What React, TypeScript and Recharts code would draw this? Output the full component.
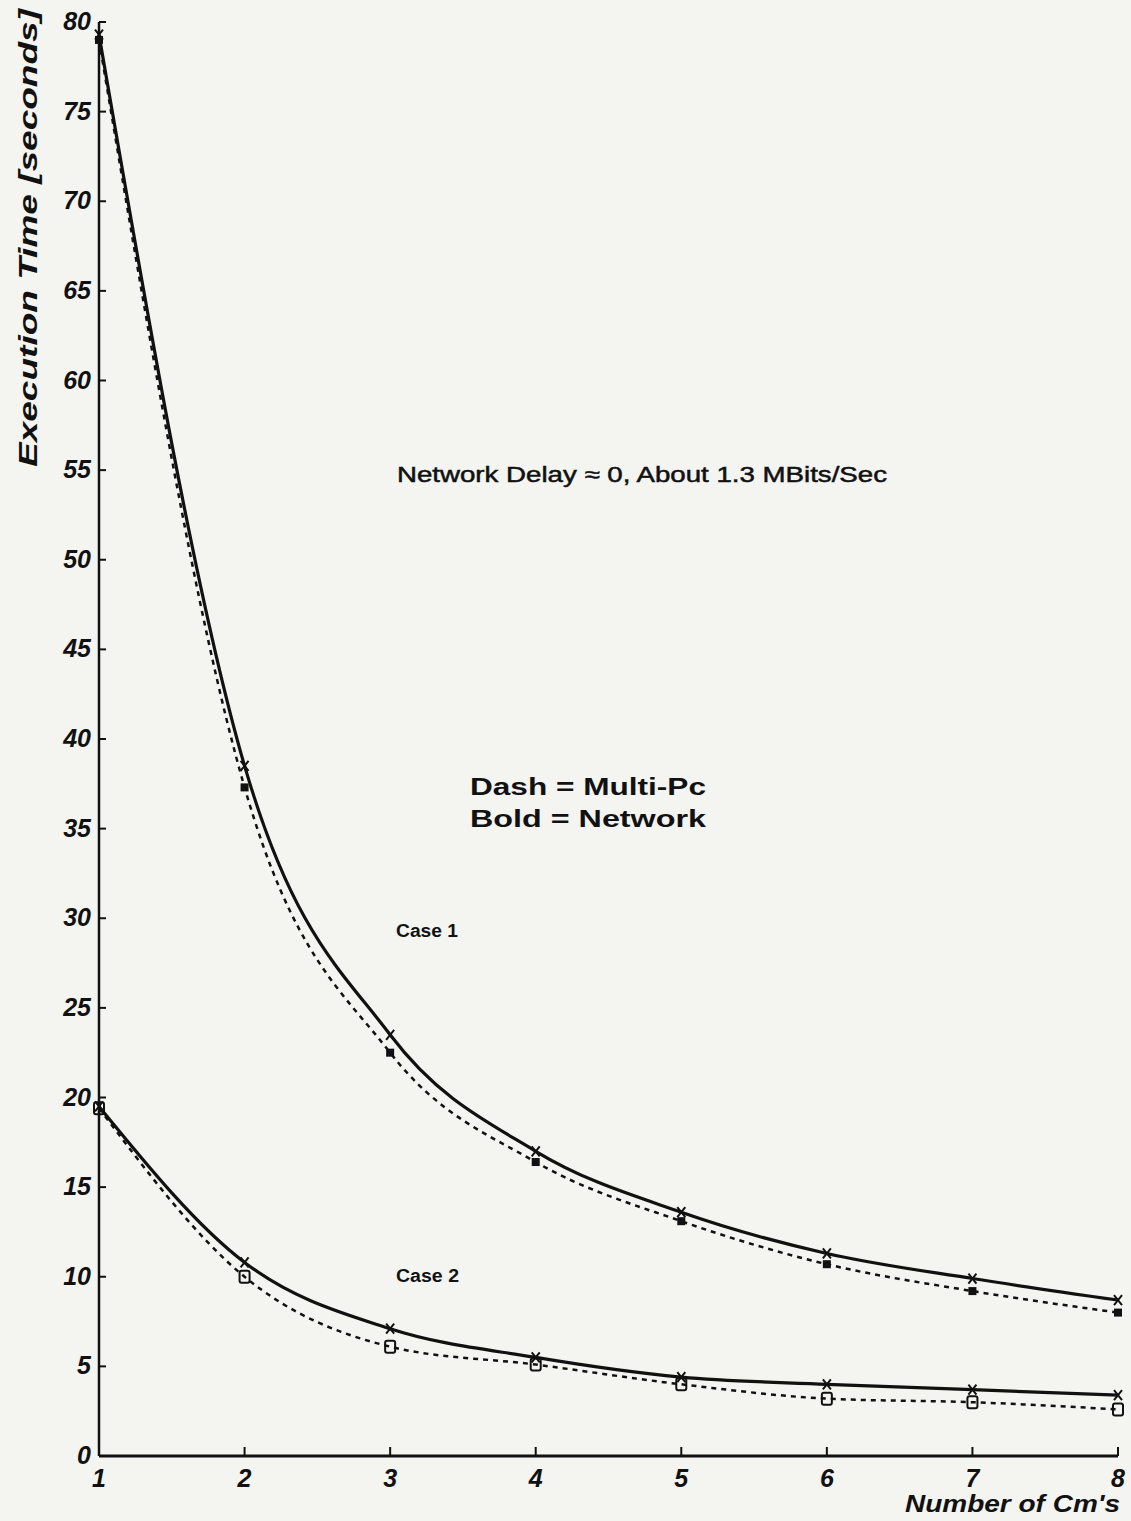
import React from "react";
import { LineChart, Line, XAxis, YAxis } from "recharts";

// ---- data ----
const cmCounts = [1, 2, 3, 4, 5, 6, 7, 8];
const case1Network = [79.3, 38.5, 23.5, 17.0, 13.6, 11.3, 9.9, 8.7];
const case1MultiPc = [79.0, 37.3, 22.5, 16.4, 13.1, 10.7, 9.2, 8.0];
const case2Network = [19.5, 10.8, 7.1, 5.5, 4.4, 4.0, 3.7, 3.4];
const case2MultiPc = [19.4, 10.0, 6.1, 5.1, 4.0, 3.2, 3.0, 2.6];
const xTicks = [1, 2, 3, 4, 5, 6, 7, 8];
const yTicks = [0, 5, 10, 15, 20, 25, 30, 35, 40, 45, 50, 55, 60, 65, 70, 75, 80];

const data = cmCounts.map((x, i) => ({
  x,
  c1n: case1Network[i],
  c1m: case1MultiPc[i],
  c2n: case2Network[i],
  c2m: case2MultiPc[i],
}));

const FONT = "'Liberation Sans', Arial, Helvetica, sans-serif";
const INK = "#111";

const YTick = (props: any) => {
  const { x, y, payload } = props;
  return (
    <g>
      <line x1={x + 6} x2={x + 13} y1={y} y2={y} stroke={INK} strokeWidth={2} />
      <text
        x={x - 2}
        y={y}
        dy={8}
        textAnchor="end"
        fontFamily={FONT}
        fontWeight="bold"
        fontStyle="italic"
        fontSize={25}
        fill={INK}
      >
        {payload.value}
      </text>
    </g>
  );
};

const XTick = (props: any) => {
  const { x, y, payload } = props;
  return (
    <g>
      <line x1={x} x2={x} y1={y - 8} y2={y - 17} stroke={INK} strokeWidth={2} />
      <text
        x={x}
        y={y}
        dy={23}
        textAnchor="middle"
        fontFamily={FONT}
        fontWeight="bold"
        fontStyle="italic"
        fontSize={25}
        fill={INK}
      >
        {payload.value}
      </text>
    </g>
  );
};

const crossDot = (props: any) => {
  const { cx, cy, index } = props;
  if (cx == null || cy == null) return <g key={`cx-${index}`} />;
  return (
    <path
      key={`cx-${index}`}
      d={`M${cx - 4},${cy - 5} L${cx + 4},${cy + 5} M${cx + 4},${cy - 5} L${cx - 4},${cy + 5}`}
      stroke={INK}
      strokeWidth={2}
      fill="none"
    />
  );
};

const filledSquareDot = (props: any) => {
  const { cx, cy, index } = props;
  if (cx == null || cy == null) return <g key={`fs-${index}`} />;
  return <rect key={`fs-${index}`} x={cx - 4} y={cy - 4} width={8} height={8} fill={INK} />;
};

const openSquareDot = (props: any) => {
  const { cx, cy, index } = props;
  if (cx == null || cy == null) return <g key={`os-${index}`} />;
  return (
    <rect
      key={`os-${index}`}
      x={cx - 5}
      y={cy - 6}
      width={10}
      height={12}
      rx={2}
      fill="none"
      stroke={INK}
      strokeWidth={2}
    />
  );
};

export default function App() {
  return (
    <div
      style={{
        position: "absolute",
        left: 0,
        top: 0,
        width: 1131,
        height: 1521,
        background: "#f4f4f1",
      }}
    >
      <LineChart
        width={1131}
        height={1521}
        data={data}
        margin={{ top: 22, right: 13, left: 0, bottom: 0 }}
      >
        <XAxis
          dataKey="x"
          type="number"
          domain={[1, 8]}
          ticks={xTicks}
          height={65}
          tickSize={0}
          tickMargin={8}
          tickLine={false}
          axisLine={{ stroke: INK, strokeWidth: 3 }}
          tick={<XTick />}
          interval={0}
        />
        <YAxis
          type="number"
          domain={[0, 80]}
          ticks={yTicks}
          width={99}
          tickSize={0}
          tickMargin={6}
          tickLine={false}
          axisLine={{ stroke: INK, strokeWidth: 2.5 }}
          tick={<YTick />}
          interval={0}
        />
        <Line
          type="monotone"
          dataKey="c1m"
          stroke={INK}
          strokeWidth={2.5}
          strokeDasharray="5 5"
          dot={filledSquareDot}
          isAnimationActive={false}
        />
        <Line
          type="monotone"
          dataKey="c1n"
          stroke={INK}
          strokeWidth={3.2}
          dot={crossDot}
          isAnimationActive={false}
        />
        <Line
          type="monotone"
          dataKey="c2m"
          stroke={INK}
          strokeWidth={2.5}
          strokeDasharray="5 5"
          dot={openSquareDot}
          isAnimationActive={false}
        />
        <Line
          type="monotone"
          dataKey="c2n"
          stroke={INK}
          strokeWidth={3.2}
          dot={crossDot}
          isAnimationActive={false}
        />
      </LineChart>
      <svg
        width={1131}
        height={1521}
        style={{ position: "absolute", left: 0, top: 0, pointerEvents: "none" }}
      >
        <text
          transform="translate(37, 238) rotate(-90)"
          textAnchor="middle"
          fontFamily={FONT}
          fontWeight="bold"
          fontStyle="italic"
          fontSize={25}
          fill={INK}
          textLength={458}
          lengthAdjust="spacingAndGlyphs"
        >
          Execution Time [seconds]
        </text>
        <text
          x={397}
          y={482}
          fontFamily={FONT}
          fontSize={22}
          fill={INK}
          stroke={INK}
          strokeWidth={0.5}
          textLength={490}
          lengthAdjust="spacingAndGlyphs"
        >
          Network Delay ≈ 0, About 1.3 MBits/Sec
        </text>
        <text
          x={470}
          y={795}
          fontFamily={FONT}
          fontWeight="bold"
          fontSize={23}
          fill={INK}
          textLength={236}
          lengthAdjust="spacingAndGlyphs"
        >
          Dash = Multi-Pc
        </text>
        <text
          x={470}
          y={827}
          fontFamily={FONT}
          fontWeight="bold"
          fontSize={23}
          fill={INK}
          textLength={236}
          lengthAdjust="spacingAndGlyphs"
        >
          Bold = Network
        </text>
        <text
          x={396}
          y={937}
          fontFamily={FONT}
          fontWeight="bold"
          fontSize={18}
          fill={INK}
          textLength={62}
          lengthAdjust="spacingAndGlyphs"
        >
          Case 1
        </text>
        <text
          x={396}
          y={1282}
          fontFamily={FONT}
          fontWeight="bold"
          fontSize={18}
          fill={INK}
          textLength={63}
          lengthAdjust="spacingAndGlyphs"
        >
          Case 2
        </text>
        <text
          x={1120}
          y={1512}
          textAnchor="end"
          fontFamily={FONT}
          fontWeight="bold"
          fontStyle="italic"
          fontSize={24}
          fill={INK}
          textLength={215}
          lengthAdjust="spacingAndGlyphs"
        >
          Number of Cm's
        </text>
      </svg>
    </div>
  );
}
